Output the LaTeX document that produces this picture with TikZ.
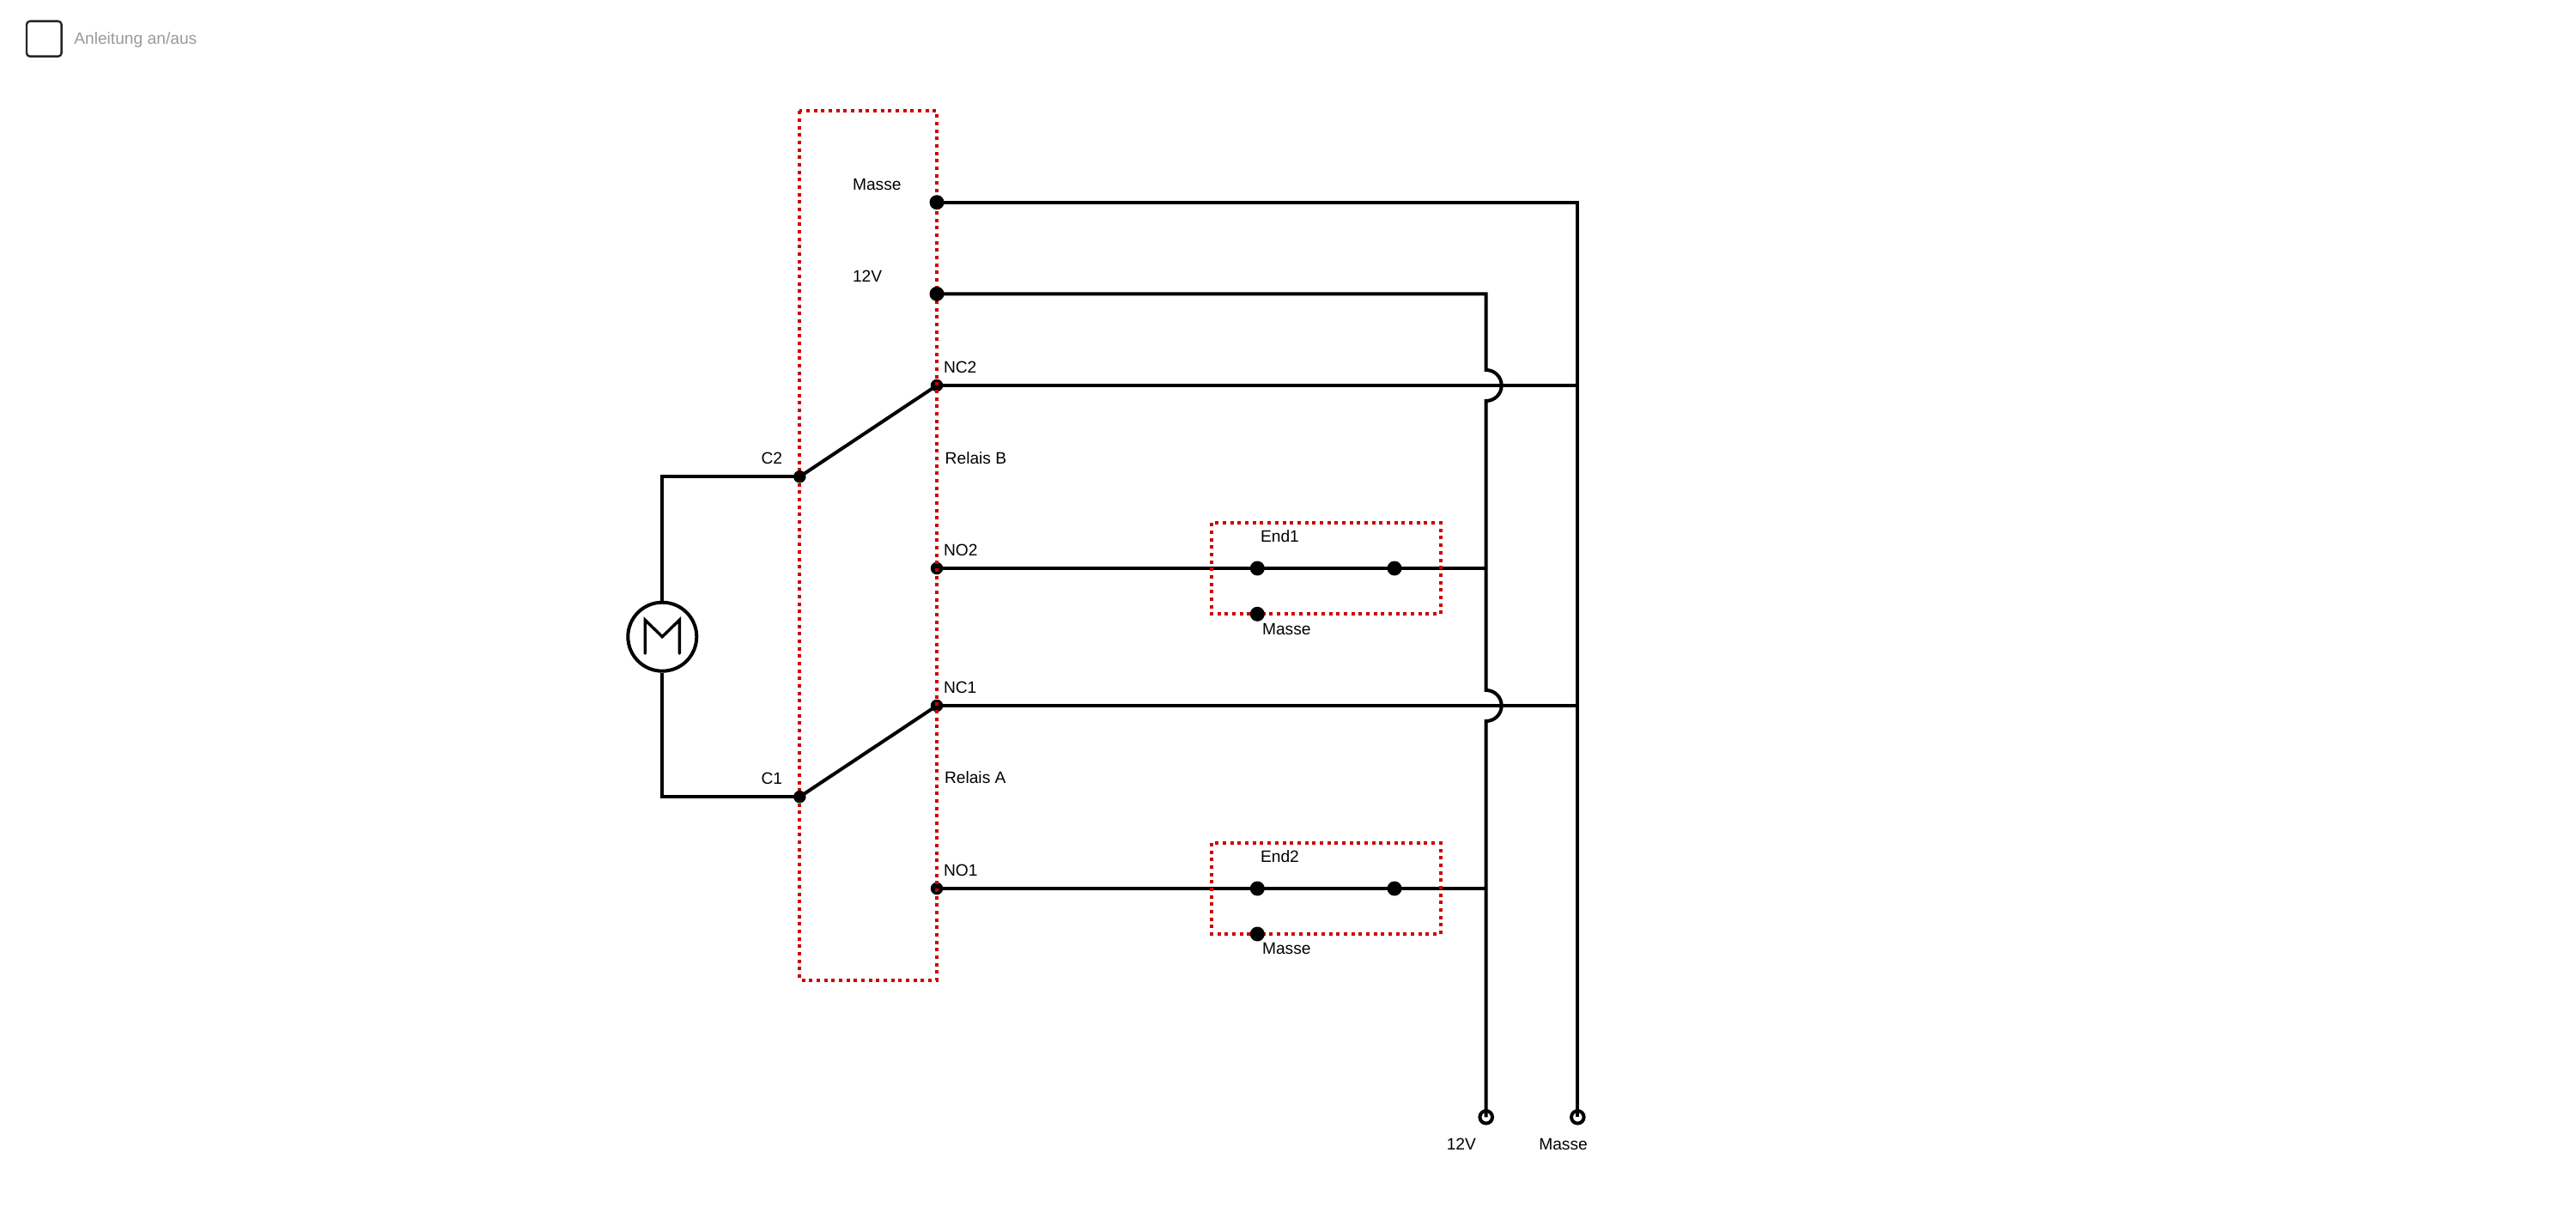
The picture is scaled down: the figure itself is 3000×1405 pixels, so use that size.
\documentclass[tikz,border=0pt]{standalone}
\usepackage{fontspec}
\setmainfont{Liberation Sans}
\pgfdeclarelayer{wires}
\pgfdeclarelayer{lowdots}
\pgfdeclarelayer{redbox}
\pgfsetlayers{wires,lowdots,redbox,main}
\tikzset{
  wire/.style={draw=black,line width=4pt,line join=miter},
  dotbase/.style={circle,fill=black,draw=none,inner sep=0pt,outer sep=0pt},
  bigdot/.style={dotbase,minimum size=17pt},
  pindot/.style={dotbase,minimum size=14.5pt},
  terminal/.style={circle,draw=black,line width=4pt,fill=none,inner sep=0pt,outer sep=0pt,minimum size=14.6pt},
  motorshape/.style={circle,draw=black,line width=4pt,fill=none,inner sep=0pt,outer sep=2pt,minimum size=80pt},
  redline/.style={draw=red!80!black,line width=4pt,dash pattern=on 4pt off 4.67pt},
  lbl/.style={inner sep=0pt,outer sep=0pt,anchor=base west,text=black,font=\fontsize{19.2}{23}\selectfont},
  graylbl/.style={lbl,text=black!40},
}
\begin{document}
\begin{tikzpicture}[x=1pt,y=-1pt]
\useasboundingbox (0,0) rectangle (3000,1405);
% nodes on top of the red boxes
\node[bigdot] (gnd) at (1091,235.7) {};
\node[bigdot] (vcc) at (1091,342.3) {};
\node[pindot] (c2) at (931.3,555.3) {};
\node[pindot] (c1) at (931.3,928.2) {};
\node[bigdot] (e1a) at (1464.3,662) {};
\node[bigdot] (e1b) at (1624,662) {};
\node[bigdot] (e1m) at (1464.3,715.3) {};
\node[bigdot] (e2a) at (1464.3,1035) {};
\node[bigdot] (e2b) at (1624,1035) {};
\node[bigdot] (e2m) at (1464.3,1088) {};
\node[terminal] (t12) at (1730.7,1301.3) {};
\node[terminal] (tgnd) at (1837.3,1301.3) {};
\node[motorshape] (motor) at (771.3,741.7) {};
% nodes beneath the red box
\begin{pgfonlayer}{lowdots}
\node[pindot] (nc2) at (1091,449) {};
\node[pindot] (no2) at (1091,662) {};
\node[pindot] (nc1) at (1091,822) {};
\node[pindot] (no1) at (1091,1035) {};
\end{pgfonlayer}
% junctions and bends
\coordinate (gndc) at (1837.3,235.7);
\coordinate (vccc) at (1730.7,342.3);
\coordinate (h2a) at (1730.7,431);
\coordinate (h2b) at (1730.7,467);
\coordinate (h1a) at (1730.7,804);
\coordinate (h1b) at (1730.7,840);
\coordinate (jnc2) at (1837.3,449);
\coordinate (jnc1) at (1837.3,822);
\coordinate (jno2) at (1730.7,662);
\coordinate (jno1) at (1730.7,1035);
\coordinate (mc2) at (771.3,555.3);
\coordinate (mc1) at (771.3,928.2);
% wires
\begin{pgfonlayer}{wires}
\draw[wire] (gnd.center) -- (gndc) -- (tgnd.center);
\draw[wire] (vcc.center) -- (vccc) -- (h2a) arc[start angle=90,end angle=-90,radius=18pt] -- (h1a) arc[start angle=90,end angle=-90,radius=18pt] -- (t12.center);
\draw[wire] (nc2.center) -- (jnc2);
\draw[wire] (nc1.center) -- (jnc1);
\draw[wire] (no2.center) -- (e1a.center) -- (e1b.center) -- (jno2);
\draw[wire] (no1.center) -- (e2a.center) -- (e2b.center) -- (jno1);
\draw[wire] (c2.center) -- (nc2.center);
\draw[wire] (c1.center) -- (nc1.center);
\draw[wire] (c2.center) -- (mc2) -- (motor.north);
\draw[wire] (c1.center) -- (mc1) -- (motor.south);
\end{pgfonlayer}
% motor letter
\draw[line width=3.4pt,line cap=round,line join=miter] ([shift={(-20,19.5)}]motor.center) -- ([shift={(-20,-19.5)}]motor.center) -- ([shift={(0,0)}]motor.center) -- ([shift={(20,-19.5)}]motor.center) -- ([shift={(20,19.5)}]motor.center);
% red boxes
\begin{pgfonlayer}{redbox}
\draw[redline] (931.3,129.3) rectangle (1091,1141.5);
\draw[redline] (1411,609.3) rectangle (1677.7,715.3);
\draw[redline] (1411,982) rectangle (1677.7,1088);
\end{pgfonlayer}
% checkbox
\node[draw=black!85,line width=2.4pt,rounded corners=4pt,fill=none,inner sep=0pt,minimum width=40.7pt,minimum height=41pt] (chk) at (51.3,45.2) {};
% labels
\node[graylbl] (lhelp) at (86.3,51.7) {Anleitung an/aus};
\node[lbl] (lgnd) at (993,221.2) {Masse};
\node[lbl] (lvcc) at (993,328) {12V};
\node[lbl] (lnc2) at (1099,434) {NC2};
\node[lbl] (lrb) at (1100.7,540.5) {Relais B};
\node[lbl] (lno2) at (1099,647) {NO2};
\node[lbl] (lc2) at (886.5,540.5) {C2};
\node[lbl] (lnc1) at (1099,807) {NC1};
\node[lbl] (lra) at (1100,912.5) {Relais A};
\node[lbl] (lno1) at (1099,1020) {NO1};
\node[lbl] (lc1) at (886.5,913) {C1};
\node[lbl] (le1) at (1468,631.3) {End1};
\node[lbl] (lm1) at (1470,739) {Masse};
\node[lbl] (le2) at (1468,1004.3) {End2};
\node[lbl] (lm2) at (1470,1111.5) {Masse};
\node[lbl] (lt12) at (1684.8,1339) {12V};
\node[lbl] (ltgnd) at (1792.3,1339) {Masse};
\end{tikzpicture}
\end{document}
